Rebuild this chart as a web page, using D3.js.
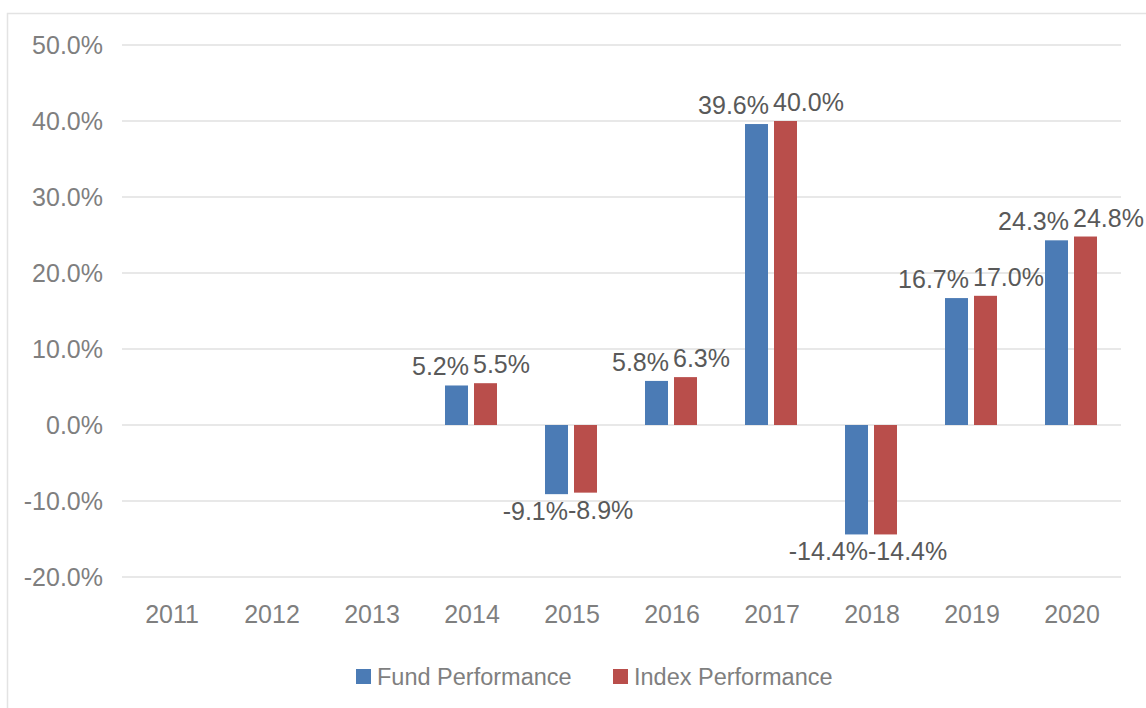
<!DOCTYPE html>
<html>
<head>
<meta charset="utf-8">
<script src="https://cdn.jsdelivr.net/npm/d3@7"></script>
<style>
  body { margin: 0; background: #fff; }
  svg { display: block; font-family: "Liberation Sans", Arial, sans-serif; }
</style>
</head>
<body>
<svg id="chart" width="1146" height="708"></svg>
<script>
// chart data
let years = ["2011", "2012", "2013", "2014", "2015", "2016", "2017", "2018", "2019", "2020"];
let fundPerf = [null, null, null, 5.2, -9.1, 5.8, 39.6, -14.4, 16.7, 24.3];
let indexPerf = [null, null, null, 5.5, -8.9, 6.3, 40.0, -14.4, 17.0, 24.8];
let seriesNames = ["Fund Performance", "Index Performance"];
let yTicks = [-20, -10, 0, 10, 20, 30, 40, 50];

let colors = ["#4b7bb5", "#b94e4b"];
let svg = d3.select("#chart");

// outer border of the chart area (right and bottom run off the page)
svg.append("rect")
    .attr("x", 7.5).attr("y", 13.5)
    .attr("width", 1160).attr("height", 720)
    .attr("fill", "none")
    .attr("stroke", "#e3e3e3")
    .attr("stroke-width", 1.5);

let x0 = d3.scaleBand().domain(years).range([122, 1122]);
let y = d3.scaleLinear().domain([-20, 50]).range([577, 45]);
let half = x0.bandwidth() / 2;
let x1 = d3.scaleBand().domain(seriesNames)
    .range([half - 27, half + 25])
    .paddingInner(6 / 29);

// gridlines
svg.append("g")
    .selectAll("line")
    .data(yTicks)
    .enter()
    .append("line")
    .attr("x1", 122).attr("x2", 1121)
    .attr("y1", d => y(d)).attr("y2", d => y(d))
    .attr("stroke", "#e0e0e0")
    .attr("stroke-width", 1.5);

// y axis labels
let fmt = d => d.toFixed(1) + "%";
let yAxis = svg.append("g")
    .attr("transform", "translate(103,0)")
    .call(d3.axisLeft(y).tickValues(yTicks).tickFormat(fmt).tickSize(0).tickPadding(0));
yAxis.select(".domain").remove();
yAxis.selectAll("text")
    .attr("fill", "#7f7f7f")
    .style("font-size", "25px")
    .attr("dy", "0.35em");

// x axis labels
let xAxis = svg.append("g")
    .attr("transform", "translate(0,600)")
    .call(d3.axisBottom(x0).tickSize(0).tickPadding(0));
xAxis.select(".domain").remove();
xAxis.selectAll("text")
    .attr("fill", "#7f7f7f")
    .style("font-size", "25px")
    .attr("dy", "23px");

let rows = years.map((yr, i) => ({year: yr, values: [fundPerf[i], indexPerf[i]]}));

let groups = svg.append("g")
    .selectAll("g")
    .data(rows)
    .enter()
    .append("g")
    .attr("transform", d => "translate(" + x0(d.year) + ",0)");

let cells = groups.selectAll("g")
    .data(d => d.values.map((v, j) => ({key: seriesNames[j], j: j, v: v})).filter(c => c.v !== null))
    .enter()
    .append("g");

cells.append("rect")
    .attr("x", d => x1(d.key))
    .attr("width", x1.bandwidth())
    .attr("y", d => Math.min(y(d.v), y(0)))
    .attr("height", d => Math.abs(y(d.v) - y(0)))
    .attr("fill", d => colors[d.j]);

// data labels: fund ends at group centre, index starts at group centre
function labelX(d) {
    if (d.j === 0) return d.v >= 0 ? half - 3 : half - 4;
    return d.v >= 0 ? half + 1 : half - 4;
}
cells.append("text")
    .attr("x", labelX)
    .attr("y", d => d.v >= 0 ? y(d.v) - 10 : y(d.v) + 26)
    .attr("text-anchor", d => d.j === 0 ? "end" : "start")
    .attr("fill", "#595959")
    .style("font-size", "25px")
    .text(d => fmt(d.v));

// legend
let legendX = [356, 613];
let legend = svg.append("g")
    .selectAll("g")
    .data(seriesNames)
    .enter()
    .append("g")
    .attr("transform", (d, i) => "translate(" + legendX[i] + ",669)");
legend.append("rect")
    .attr("width", 15).attr("height", 15)
    .attr("fill", (d, i) => colors[i]);
legend.append("text")
    .attr("x", 21).attr("y", 16)
    .attr("fill", "#7f7f7f")
    .style("font-size", "23.5px")
    .text(d => d);
</script>
</body>
</html>
